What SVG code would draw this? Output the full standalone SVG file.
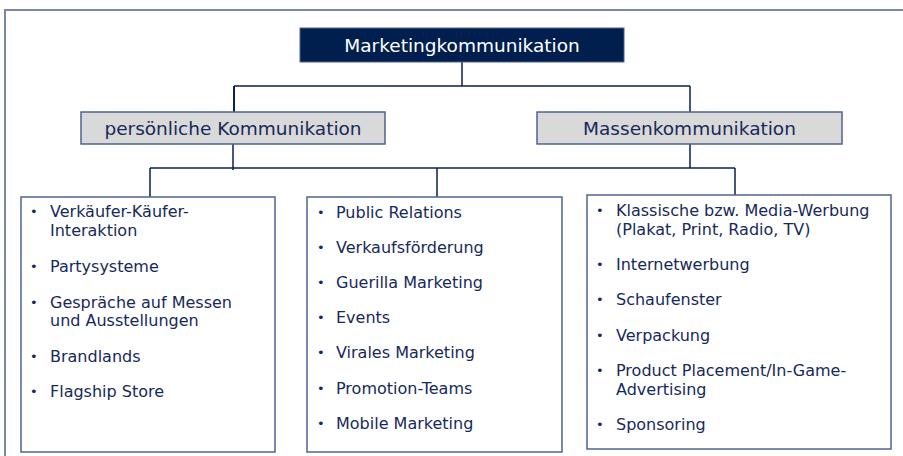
<svg xmlns="http://www.w3.org/2000/svg" width="903" height="456" viewBox="0 0 903 456">
<style>
.frame{stroke:#7a88a4;stroke-width:2;fill:none}
.con{stroke:#0d1f4c;stroke-width:1.5;fill:none}
.lvl2{fill:#d9d9d9;stroke:#4f6391;stroke-width:1.5}
.list{fill:#ffffff;stroke:#4f6391;stroke-width:1.5}
.t1{font-family:"DejaVu Sans",Verdana,sans-serif;font-size:18.5px;fill:#ffffff;text-anchor:middle}
.t2{font-family:"DejaVu Sans",Verdana,sans-serif;font-size:18.5px;fill:#16295a;text-anchor:middle}
.tl{font-family:"DejaVu Sans",Verdana,sans-serif;font-size:16px;fill:#16295a}
.b{font-family:"DejaVu Sans",Verdana,sans-serif;font-size:13px;fill:#16295a}
</style>
<rect width="903" height="456" fill="#ffffff"/>
<path class="frame" d="M5,456 V10 H903"/>
<g id="connectors">
<path class="con" d="M462,62 V86"/>
<path class="con" d="M234,86 H690 M690,86 V112"/>
<path class="con" d="M234,86 V112" style="stroke-width:2"/>
<path class="con" d="M233,144 V170"/>
<path class="con" d="M150,168 H735"/>
<path class="con" d="M690,144 V168"/>
<path class="con" d="M150,168 V197 M437,168 V197 M735,168 V195"/>
</g>
<g id="root">
<rect x="300" y="28" width="324" height="34" fill="#001f4f" stroke="#4f6391" stroke-width="1"/>
<text class="t1" x="462" y="52">Marketingkommunikation</text>
</g>
<g id="persoenlich">
<rect class="lvl2" x="81" y="112" width="304" height="32"/>
<text class="t2" x="233" y="135">persönliche Kommunikation</text>
</g>
<g id="massen">
<rect class="lvl2" x="537" y="112" width="305" height="32"/>
<text class="t2" x="689.5" y="135">Massenkommunikation</text>
</g>
<g id="list1">
<rect class="list" x="21" y="197" width="254" height="255"/>
<text class="b" x="30" y="216">•</text>
<text class="tl" x="50" y="217">Verkäufer-Käufer-</text>
<text class="tl" x="50" y="236">Interaktion</text>
<text class="b" x="30" y="271">•</text>
<text class="tl" x="50" y="272">Partysysteme</text>
<text class="b" x="30" y="307">•</text>
<text class="tl" x="50" y="308">Gespräche auf Messen</text>
<text class="tl" x="50" y="326">und Ausstellungen</text>
<text class="b" x="30" y="361">•</text>
<text class="tl" x="50" y="362">Brandlands</text>
<text class="b" x="30" y="396">•</text>
<text class="tl" x="50" y="397">Flagship Store</text>
</g>
<g id="list2">
<rect class="list" x="307" y="197" width="255" height="255"/>
<text class="b" x="317" y="216.5">•</text>
<text class="tl" x="336" y="217.5">Public Relations</text>
<text class="b" x="317" y="251.7">•</text>
<text class="tl" x="336" y="252.7">Verkaufsförderung</text>
<text class="b" x="317" y="286.9">•</text>
<text class="tl" x="336" y="287.9">Guerilla Marketing</text>
<text class="b" x="317" y="322.1">•</text>
<text class="tl" x="336" y="323.1">Events</text>
<text class="b" x="317" y="357.3">•</text>
<text class="tl" x="336" y="358.3">Virales Marketing</text>
<text class="b" x="317" y="392.5">•</text>
<text class="tl" x="336" y="393.5">Promotion-Teams</text>
<text class="b" x="317" y="427.7">•</text>
<text class="tl" x="336" y="428.7">Mobile Marketing</text>
</g>
<g id="list3">
<rect class="list" x="587" y="195" width="304" height="254"/>
<text class="b" x="596" y="215">•</text>
<text class="tl" x="616" y="216">Klassische bzw. Media-Werbung</text>
<text class="tl" x="616" y="235">(Plakat, Print, Radio, TV)</text>
<text class="b" x="596" y="269">•</text>
<text class="tl" x="616" y="270">Internetwerbung</text>
<text class="b" x="596" y="304">•</text>
<text class="tl" x="616" y="305">Schaufenster</text>
<text class="b" x="596" y="340">•</text>
<text class="tl" x="616" y="341">Verpackung</text>
<text class="b" x="596" y="375">•</text>
<text class="tl" x="616" y="376">Product Placement/In-Game-</text>
<text class="tl" x="616" y="394.5">Advertising</text>
<text class="b" x="596" y="429">•</text>
<text class="tl" x="616" y="430">Sponsoring</text>
</g>
</svg>
